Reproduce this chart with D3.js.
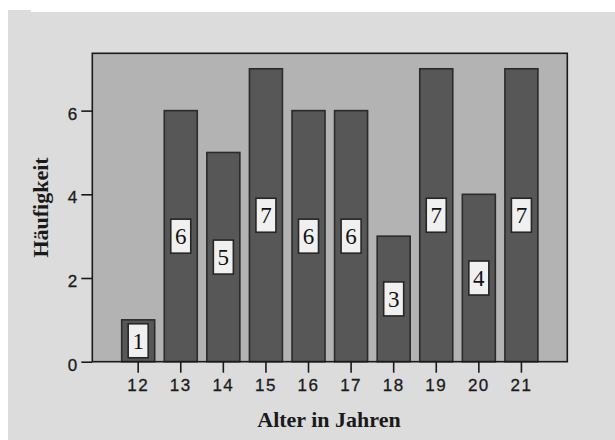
<!DOCTYPE html>
<html>
<head>
<meta charset="utf-8">
<script src="https://cdn.jsdelivr.net/npm/d3@7"></script>
<style>
  html, body { margin: 0; padding: 0; background: #ffffff; }
  svg { display: block; }
</style>
</head>
<body>
<svg id="chart" width="615" height="440"></svg>
<script>
const categories = ["12", "13", "14", "15", "16", "17", "18", "19", "20", "21"];
const counts = [1, 6, 5, 7, 6, 6, 3, 7, 4, 7];
const yTickValues = [0, 2, 4, 6];
const xTitle = "Alter in Jahren";
const yTitle = "Häufigkeit";

const svg = d3.select("#chart");
const W = 615, H = 440;

// outer grey panel
svg.append("rect").attr("x", 8).attr("y", 12).attr("width", W - 8).attr("height", H - 12).attr("fill", "#dcdcdc");
svg.append("rect").attr("x", 8).attr("y", 10).attr("width", 23).attr("height", 3).attr("fill", "#dcdcdc");

const plot = { left: 92.3, right: 567.3, top: 53.3, bottom: 361.7 };

const x = d3.scaleBand()
  .domain(categories)
  .range([plot.left, plot.right])
  .paddingInner(0.225)
  .paddingOuter(0.69);

const y = d3.scaleLinear()
  .domain([0, 7.37])
  .range([plot.bottom, plot.top]);

// plot background
svg.append("rect")
  .attr("x", plot.left).attr("y", plot.top)
  .attr("width", plot.right - plot.left).attr("height", plot.bottom - plot.top)
  .attr("fill", "#b3b3b3");

// bars
const data = categories.map((c, i) => ({ c, v: counts[i] }));
svg.append("g").selectAll("rect").data(data).join("rect")
  .attr("x", d => x(d.c))
  .attr("y", d => y(d.v))
  .attr("width", x.bandwidth())
  .attr("height", d => y(0) - y(d.v))
  .attr("fill", "#575757")
  .attr("stroke", "#2b2b2b")
  .attr("stroke-width", 1.6);

// labels in boxes
const boxW = 20, boxH = 34;
const lab = svg.append("g").selectAll("g").data(data).join("g")
  .attr("transform", d => `translate(${x(d.c) + x.bandwidth() / 2},${(y(d.v) + y(0)) / 2})`);
lab.append("rect")
  .attr("x", -boxW / 2).attr("y", -boxH / 2)
  .attr("width", boxW).attr("height", boxH)
  .attr("fill", "#f0f0f0")
  .attr("stroke", "#262626")
  .attr("stroke-width", 1.6);
lab.append("text")
  .attr("text-anchor", "middle")
  .attr("dy", "0.35em")
  .attr("font-family", "'Liberation Serif', 'Times New Roman', serif")
  .attr("font-size", 23)
  .attr("fill", "#111")
  .text(d => d.v);

// frame
svg.append("rect")
  .attr("x", plot.left).attr("y", plot.top)
  .attr("width", plot.right - plot.left).attr("height", plot.bottom - plot.top)
  .attr("fill", "none")
  .attr("stroke", "#1a1a1a")
  .attr("stroke-width", 1.6);

// y axis
const yAxis = d3.axisLeft(y).tickValues(yTickValues).tickSize(11).tickPadding(4).tickFormat(d3.format("d"));
const gy = svg.append("g").attr("transform", `translate(${plot.left},0)`).call(yAxis);
gy.select(".domain").remove();
gy.selectAll(".tick line").attr("stroke", "#1a1a1a").attr("stroke-width", 1.6);
gy.selectAll(".tick text")
  .attr("font-family", "'Liberation Sans', Arial, sans-serif")
  .attr("font-size", 17)
  .attr("fill", "#1a1a1a")
  .attr("stroke", "#1a1a1a")
  .attr("stroke-width", 0.3)
  .attr("dy", "0.5em");

// x axis
const xAxis = d3.axisBottom(x).tickSize(11).tickPadding(6);
const gx = svg.append("g").attr("transform", `translate(0,${plot.bottom})`).call(xAxis);
gx.select(".domain").remove();
gx.selectAll(".tick line").attr("stroke", "#1a1a1a").attr("stroke-width", 1.6);
gx.selectAll(".tick text")
  .attr("font-family", "'Liberation Sans', Arial, sans-serif")
  .attr("font-size", 17)
  .attr("letter-spacing", "1.5px")
  .attr("fill", "#1a1a1a")
  .attr("stroke", "#1a1a1a")
  .attr("stroke-width", 0.3);

// titles
svg.append("text")
  .attr("x", 329)
  .attr("y", 427)
  .attr("text-anchor", "middle")
  .attr("font-family", "'Liberation Serif', 'Times New Roman', serif")
  .attr("font-weight", "bold")
  .attr("font-size", 22)
  .attr("fill", "#1a1a1a")
  .text(xTitle);

svg.append("text")
  .attr("transform", `translate(48,${(plot.top + plot.bottom) / 2}) rotate(-90)`)
  .attr("text-anchor", "middle")
  .attr("font-family", "'Liberation Serif', 'Times New Roman', serif")
  .attr("font-weight", "bold")
  .attr("font-size", 22)
  .attr("fill", "#1a1a1a")
  .text(yTitle);
</script>
</body>
</html>
